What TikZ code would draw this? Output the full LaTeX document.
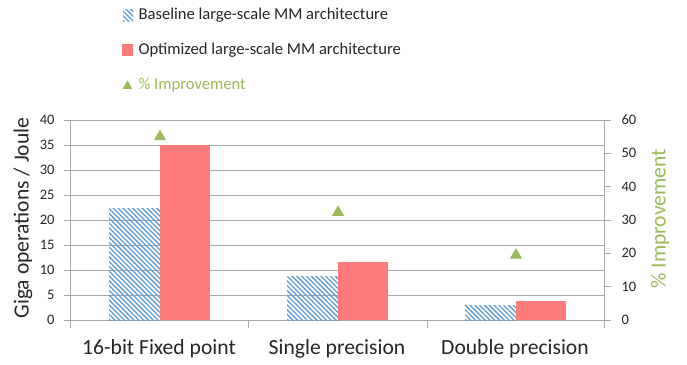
\documentclass[tikz,border=0pt]{standalone}
\usepackage{fontspec}
\setmainfont{Carlito}
\usetikzlibrary{patterns.meta,shapes.geometric}
\definecolor{basblue}{RGB}{91,155,213}
\definecolor{optred}{RGB}{255,122,122}
\definecolor{impgreen}{RGB}{155,187,89}
\definecolor{gridgray}{RGB}{168,168,168}
\definecolor{txtgray}{RGB}{38,38,38}
% one category: left edge, baseline value, optimized value, improvement
\newcommand{\barpair}[4]{\begin{scope}[shift={(#1,0)}]
  \fill[basebar] (0,320) rectangle (51,{320-5*#2});
  \fill[optbar] (51,320) rectangle (101,{320-5*#3});
  \node[impmark] at (51,{320-10/3*#4}) {};\end{scope}}

\begin{document}
\begin{tikzpicture}[x=1pt,y=-1pt,
  basebar/.style={pattern={Lines[angle=-45,distance=3.4pt,line width=1.3pt]},pattern color=basblue},
  optbar/.style={fill=optred},
  impmark/.style={regular polygon,regular polygon sides=3,fill=impgreen,minimum size=14pt,inner sep=0pt},
  ticklab/.style={font=\fontsize{14.5}{17}\selectfont,text=txtgray},
  catlab/.style={font=\fontsize{21.6}{25}\selectfont,text=txtgray},
  leglab/.style={font=\fontsize{16.6}{19}\selectfont,text=txtgray,anchor=west}]
\useasboundingbox (0,0) rectangle (687,364);
% grid and axes
\foreach \v in {5,10,...,40}
  \draw[gridgray,line width=0.9pt] (70,320-5*\v) -- (604,320-5*\v);
\draw[gridgray,line width=0.9pt] (70,320) -- (604,320);
\draw[gridgray,line width=0.9pt] (70,320) -- (70,120);
\draw[gridgray,line width=0.9pt] (604,320) -- (604,120);
\foreach \v in {0,5,...,40}{
  \draw[gridgray,line width=0.9pt] (64,320-5*\v) -- (70,320-5*\v);
  \node[ticklab,anchor=east] at (58,320-5*\v) {\v};}
\foreach \v in {0,10,...,60}{
  \draw[gridgray,line width=0.9pt] (604,{320-10/3*\v}) -- (611,{320-10/3*\v});
  \node[ticklab,anchor=west] at (618,{320-10/3*\v}) {\v};}
\foreach \x in {70,248,427,604}
  \draw[gridgray,line width=0.9pt] (\x,320) -- (\x,328);
% bars
\barpair{109}{22.4}{35}{55}
\barpair{287}{8.8}{11.6}{32.3}
\barpair{465}{2.9}{3.8}{19.5}
% category and axis labels
\node[catlab] (fixed) at (159,349) {16-bit Fixed point};
\node[catlab] (single) at (337,349) {Single precision};
\node[catlab] (double) at (515,349) {Double precision};
\node[catlab,rotate=90] (ylab) at (23,218) {Giga operations / Joule};
\node[catlab,rotate=90,text=impgreen] (rlab) at (660,219) {\% Improvement};
% legend
\fill[basebar] (123,9) rectangle (133,21);
\node[leglab] (legbase) at (135,15) {Baseline large-scale MM architecture};
\fill[optbar] (122,44) rectangle (133,56);
\node[leglab] (legopt) at (135,50) {Optimized large-scale MM architecture};
\node[impmark,minimum size=11pt] (legimp) at (127.5,86) {};
\node[leglab,text=impgreen] at (135,85) {\% Improvement};
\end{tikzpicture}
\end{document}
